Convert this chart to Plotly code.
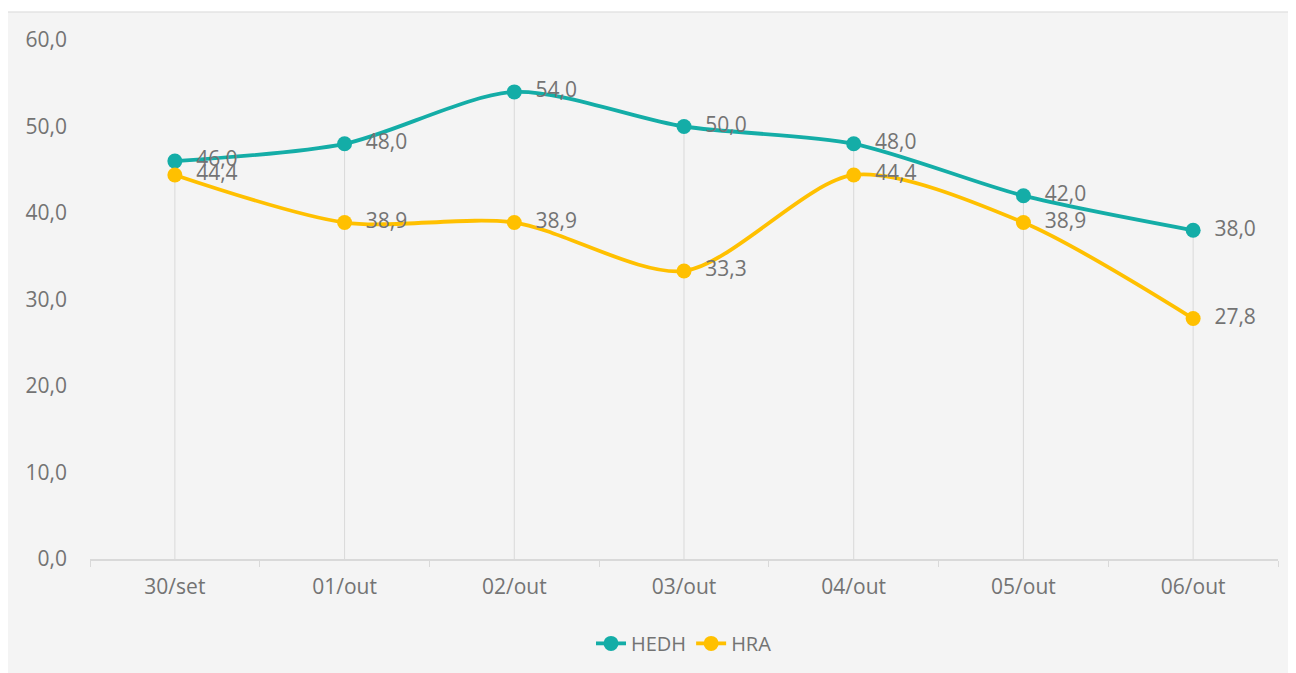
import plotly.graph_objects as go

categories = ["30/set", "01/out", "02/out", "03/out", "04/out", "05/out", "06/out"]
hedh = [46.0, 48.0, 54.0, 50.0, 48.0, 42.0, 38.0]
hra = [44.4, 38.9, 38.9, 33.3, 44.4, 38.9, 27.8]
y_ticks = [0, 10, 20, 30, 40, 50, 60]

TEAL = "#14ADA7"
YELLOW = "#FFC000"
GREY_TXT = "#737373"
FONT = "Open Sans"

fig = go.Figure()

# drop lines from axis to the highest point of each category
dx, dy = [], []
for c, a, b in zip(categories, hedh, hra):
    dx += [c, c, None]
    dy += [0, max(a, b), None]
fig.add_trace(go.Scatter(x=dx, y=dy, mode="lines", line=dict(color="#d9d9d9", width=1),
                         showlegend=False, hoverinfo="skip"))

for name, vals, col in [("HEDH", hedh, TEAL), ("HRA", hra, YELLOW)]:
    fig.add_trace(go.Scatter(
        x=categories, y=vals, name=name, mode="lines+markers+text",
        line=dict(color=col, width=3.8, shape="spline", smoothing=0.8),
        marker=dict(color=col, size=15),
        text=vals, texttemplate="  %{y:.1f}", textposition="middle right",
        textfont=dict(color=GREY_TXT, size=21, family=FONT),
    ))

fig.update_layout(
    width=1296, height=673,
    margin=dict(l=82, r=26, t=32, b=122),
    paper_bgcolor="white", plot_bgcolor="#f4f4f4",
    separators=",.",
    font=dict(family=FONT, color=GREY_TXT, size=21),
    showlegend=True,
    legend=dict(orientation="h", x=0.5, xanchor="center", y=-0.125, yanchor="top",
                font=dict(size=20, color=GREY_TXT), bgcolor="rgba(0,0,0,0)"),
    shapes=[dict(type="rect", xref="paper", yref="paper", x0=-0.0699, x1=1.03,
                 y0=-0.25, y1=1.054, fillcolor="#f4f4f4", line=dict(color="#d9d9d9", width=1),
                 layer="below")],
)
fig.update_xaxes(
    type="category", range=[-0.5, 6.5], showgrid=False, zeroline=False,
    showline=True, linecolor="#d9d9d9", linewidth=1.5,
    ticks="outside", tickson="boundaries", ticklen=6, tickcolor="#d9d9d9",
    tickfont=dict(size=21, color=GREY_TXT), ticklabelstandoff=8,
)
fig.update_yaxes(
    range=[0, 60], tickvals=y_ticks, tickformat=".1f", showgrid=False, zeroline=False,
    showline=False, tickfont=dict(size=21, color=GREY_TXT), ticklabelstandoff=22,
)

fig.write_html("out.html")
